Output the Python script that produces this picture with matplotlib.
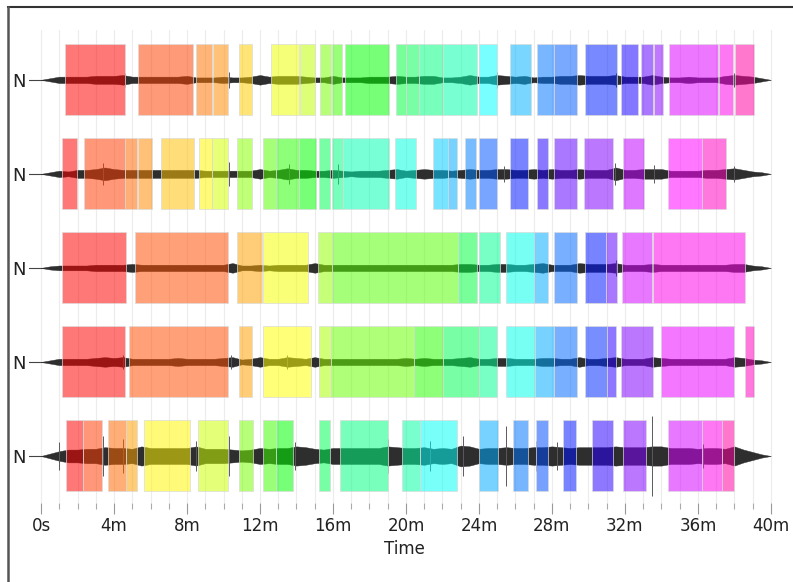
import numpy as np
import matplotlib
matplotlib.use("Agg")
import matplotlib.pyplot as plt
from matplotlib.colors import hsv_to_rgb
from matplotlib.patches import Rectangle
from matplotlib.lines import Line2D

# ---- data (minutes / pixels) ----
ROW_LABELS = ["N", "N", "N", "N", "N"]

# waveform envelope, half-height in px, sampled every 0.5 min from 0 to 40
TIME = np.arange(0, 40.5, 0.5)
amp_r1 = [0, 2, 4, 4, 4, 4, 5, 5, 5, 6, 4, 4, 4, 4, 4, 4, 5, 3, 3, 3,
          4, 3, 3, 4, 6, 4, 5, 5, 5, 4, 3, 3, 5, 3, 3, 3, 4, 4, 4, 5,
          4, 4, 5, 5, 3, 3, 4, 6, 4, 4, 6, 5, 4, 5, 3, 4, 4, 5, 5, 6,
          5, 5, 5, 6, 4, 4, 4, 6, 4, 3, 3, 4, 3, 3, 3, 5, 6, 5, 4, 2, 0]
amp_r2 = [0, 2, 4, 3, 5, 5, 6, 8, 6, 5, 5, 5, 5, 5, 5, 5, 5, 5, 4, 4,
          4, 4, 4, 4, 6, 4, 5, 7, 5, 5, 4, 4, 5, 4, 3, 4, 4, 4, 5, 6,
          4, 5, 6, 5, 5, 4, 5, 6, 5, 5, 6, 6, 5, 5, 6, 5, 6, 5, 5, 6,
          5, 5, 5, 8, 5, 5, 6, 6, 6, 4, 4, 4, 4, 5, 5, 6, 7, 5, 3, 2, 0]
amp_r3 = [0, 2, 3, 3, 3, 3, 4, 4, 4, 4, 5, 4, 4, 4, 4, 4, 4, 4, 4, 4,
          4, 6, 3, 3, 4, 3, 4, 4, 4, 4, 6, 4, 4, 4, 4, 4, 4, 4, 4, 4,
          4, 4, 4, 4, 4, 4, 5, 5, 4, 4, 5, 5, 4, 4, 5, 6, 4, 4, 4, 6,
          5, 5, 5, 6, 4, 4, 4, 5, 4, 4, 4, 4, 4, 4, 4, 4, 5, 5, 3, 2, 0]
amp_r4 = [0, 2, 4, 4, 4, 4, 5, 6, 5, 6, 4, 4, 4, 4, 4, 5, 4, 4, 4, 4,
          5, 6, 3, 4, 6, 4, 4, 6, 5, 4, 6, 4, 4, 4, 4, 4, 4, 4, 4, 4,
          5, 4, 5, 4, 4, 4, 5, 6, 4, 4, 5, 5, 4, 4, 4, 5, 5, 4, 4, 6,
          4, 4, 5, 6, 4, 4, 4, 6, 5, 4, 4, 4, 4, 4, 4, 4, 6, 5, 3, 2, 0]
amp_r5 = [0, 3, 6, 8, 8, 9, 9, 11, 10, 10, 9, 12, 10, 10, 10, 10, 10, 12, 9, 9,
          9, 8, 7, 8, 10, 9, 10, 10, 12, 11, 9, 8, 10, 10, 10, 10, 10, 10, 12, 11,
          10, 10, 11, 9, 10, 9, 13, 12, 9, 10, 10, 11, 10, 10, 11, 11, 12, 11, 10, 11,
          11, 11, 11, 12, 11, 11, 11, 12, 12, 10, 10, 10, 9, 10, 10, 9, 12, 8, 5, 2, 0]
AMPS = [amp_r1, amp_r2, amp_r3, amp_r4, amp_r5]

# isolated peaks (minute, half-height px)
spike_t = [[4.6, 10.3, 25.0, 31.5, 38.0],
           [3.4, 10.3, 13.6, 16.3, 25.4, 31.45, 33.6, 38.0],
           [31.5],
           [4.5, 10.4, 13.5],
           [1.0, 3.4, 4.5, 8.5, 10.3, 13.9, 19.0, 21.3, 23.1, 25.5, 27.1, 28.3, 33.5, 36.3]]
spike_h = [[7, 8, 8, 7, 7],
           [11, 12, 10, 10, 8, 11, 9, 8],
           [8],
           [7, 7, 7],
           [14, 20, 17, 15, 20, 14, 17, 15, 20, 30, 15, 14, 40, 12]]

# labelled sections per row (start, end in minutes)
seg_start = [
    [1.32, 5.3, 8.47, 9.44, 10.85, 12.6, 14.18, 15.29, 15.93, 16.66, 19.45, 20.0, 20.73,
     22.04, 24.0, 25.7, 27.2, 28.1, 29.8, 31.8, 32.86, 33.6, 34.4, 37.17, 38.06],
    [1.17, 2.37, 4.6, 5.33, 6.58, 8.66, 9.35, 10.74, 12.18, 12.88, 14.15, 15.25, 15.93,
     16.56, 19.4, 21.5, 22.32, 23.23, 24.0, 25.7, 27.2, 28.1, 29.77, 31.87, 34.34, 36.2],
    [1.17, 5.15, 10.72, 12.15, 15.2, 15.93, 22.87, 24.0, 25.48, 27.03, 28.1, 29.8, 30.94,
     31.85, 33.55],
    [1.17, 4.84, 10.85, 12.15, 15.23, 15.89, 20.44, 22.04, 24.0, 25.48, 27.07, 28.13, 29.8,
     31.0, 31.78, 34.0, 38.58],
    [1.35, 2.32, 3.69, 4.66, 5.64, 8.59, 10.85, 12.18, 12.88, 15.23, 16.38, 19.76, 20.77,
     24.0, 25.85, 27.1, 28.62, 30.2, 31.87, 34.37, 36.2, 37.33],
]
seg_end = [
    [4.6, 8.35, 9.35, 10.25, 11.58, 14.14, 15.03, 15.87, 16.48, 19.08, 20.0, 20.73, 22.04,
     23.87, 25.0, 26.83, 28.1, 29.35, 31.54, 32.7, 33.55, 34.1, 37.1, 37.93, 39.07],
    [1.95, 4.6, 5.24, 6.1, 8.38, 9.35, 10.26, 11.58, 12.88, 14.15, 15.07, 15.84, 16.56,
     19.08, 20.53, 22.32, 22.8, 23.82, 25.0, 26.67, 27.76, 29.35, 31.36, 33.06, 36.2, 37.52],
    [4.64, 10.23, 12.09, 14.65, 15.93, 22.87, 23.87, 25.15, 27.03, 27.76, 29.35, 30.94,
     31.58, 33.5, 38.6],
    [4.6, 10.23, 11.58, 14.77, 15.89, 20.44, 22.04, 24.0, 25.0, 27.07, 28.13, 29.35, 31.0,
     31.5, 33.52, 37.99, 39.07],
    [2.32, 3.32, 4.66, 5.28, 8.16, 10.26, 11.6, 12.88, 13.83, 15.84, 19.03, 20.77, 22.77,
     25.06, 26.7, 27.76, 29.32, 31.36, 33.13, 36.2, 37.33, 37.97],
]

# hue (degrees) of each section
seg_hue = [
    [0, 15, 27, 33, 48, 64, 75, 92, 105, 120, 135, 140, 150, 160, 180, 198, 212, 218, 233,
     245, 262, 272, 292, 305, 322],
    [0, 14, 24, 32, 45, 58, 70, 88, 100, 110, 120, 140, 150, 162, 172, 192, 200, 210, 220,
     235, 248, 262, 270, 285, 300, 315],
    [0, 18, 38, 62, 85, 100, 135, 155, 175, 200, 215, 235, 262, 290, 305],
    [0, 18, 38, 60, 80, 95, 110, 140, 155, 175, 200, 215, 230, 250, 270, 295, 315],
    [0, 14, 24, 38, 58, 72, 92, 105, 120, 140, 150, 158, 178, 200, 213, 222, 235, 250, 270,
     290, 305, 322],
]

ROW_PX = 94.0           # pixel distance between rows
HALF_BOX = 35.5 / ROW_PX
XMIN, XMAX = -0.66, 40.5
WAVE_SCALE = 0.8        # dense core of the waveform is a bit thinner than its peaks

plt.rcParams['font.family'] = ['Liberation Sans Narrow', 'DejaVu Sans']

fig = plt.figure(figsize=(7.93, 5.82), dpi=100)
ax = fig.add_axes([29 / 793, 1 - 503 / 582, (780 - 29) / 793, (503 - 30) / 582])

# faint minute grid
for m in range(0, 41):
    ax.axvline(m, color="#ececec", lw=0.8, zorder=0)

for i in range(5):
    amp = np.array(AMPS[i]) / ROW_PX * WAVE_SCALE
    ax.plot([XMIN, 0.5], [i, i], color="#444444", lw=0.8, zorder=2)
    ax.fill_between(TIME, i - amp, i + amp, color="#2e2e2e", lw=0.3, zorder=2)
    h = np.array(spike_h[i]) / ROW_PX
    ax.vlines(spike_t[i], i - h, i + h, color="#5a5a5a", lw=0.7, zorder=2)
    for s, e, hue in zip(seg_start[i], seg_end[i], seg_hue[i]):
        rgb = hsv_to_rgb((hue / 360.0, 1.0, 1.0))
        ax.add_patch(Rectangle((s, i - HALF_BOX), e - s, 2 * HALF_BOX,
                               facecolor=(*rgb, 0.53), edgecolor=(0.86, 0.86, 0.86, 0.7),
                               lw=0.7, zorder=3))

ax.set_xlim(XMIN, XMAX)
ax.set_ylim(4.5, -0.53)
for sp in ax.spines.values():
    sp.set_visible(False)

major = list(range(0, 41, 4))
ax.set_xticks(major)
ax.set_xticklabels(["0s"] + [f"{m}m" for m in major[1:]], fontsize=12, color="#222222")
ax.set_xticks(range(0, 41), minor=True)
ax.tick_params(axis="x", which="major", length=8, width=0.8, color="#999999", pad=2)
ax.tick_params(axis="x", which="minor", length=4, width=0.8, color="#aaaaaa")
ax.set_yticks(range(5))
ax.set_yticklabels(ROW_LABELS, fontsize=13, color="#222222",
                   family=["DejaVu Sans"])
ax.tick_params(axis="y", length=0, pad=2)
ax.set_xlabel("Time", fontsize=12, color="#222222", labelpad=4)

# window frame (top and left edges)
fig.add_artist(Line2D([8 / 793, 1], [1 - 7 / 582, 1 - 7 / 582], color="#333333", lw=1.5))
fig.add_artist(Line2D([8 / 793, 8 / 793], [0, 1 - 7 / 582], color="#555555", lw=1.8))

fig.savefig("out.png", dpi=100)
